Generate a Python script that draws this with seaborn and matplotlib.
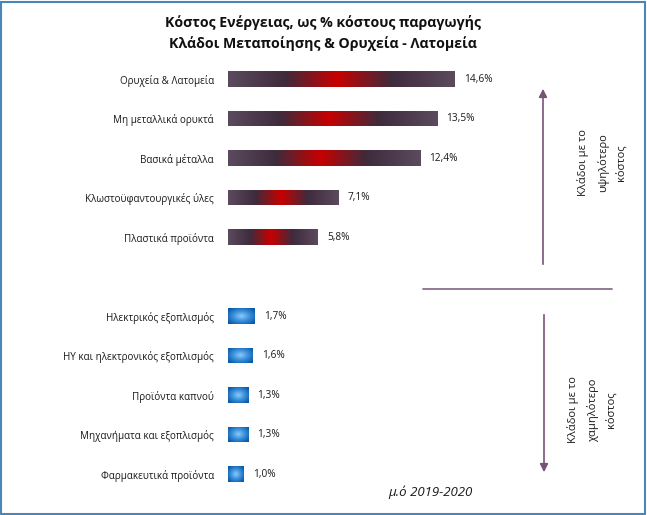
import numpy as np
import pandas as pd
import matplotlib.pyplot as plt
import matplotlib.patches as mpatches
from matplotlib.colors import LinearSegmentedColormap
import seaborn as sns

# --- Data ---
high_sectors = ['Ορυχεία & Λατομεία', 'Μη μεταλλικά ορυκτά', 'Βασικά μέταλλα',
                'Κλωστοϋφαντουργικές ύλες', 'Πλαστικά προϊόντα']
high_values = [14.6, 13.5, 12.4, 7.1, 5.8]
low_sectors = ['Ηλεκτρικός εξοπλισμός', 'ΗΥ και ηλεκτρονικός εξοπλισμός',
               'Προϊόντα καπνού', 'Μηχανήματα και εξοπλισμός', 'Φαρμακευτικά προϊόντα']
low_values = [1.7, 1.6, 1.3, 1.3, 1.0]
value_labels = ['14,6%', '13,5%', '12,4%', '7,1%', '5,8%',
                '1,7%', '1,6%', '1,3%', '1,3%', '1,0%']

TITLE = 'Κόστος Ενέργειας, ως % κόστους παραγωγής\nΚλάδοι Μεταποίησης & Ορυχεία - Λατομεία'
NOTE = 'μ.ό 2019-2020'
UP_TEXT = 'Κλάδοι με το\nυψηλότερο\nκόστος'
DOWN_TEXT = 'Κλάδοι με το\nχαμηλότερο\nκόστος'

sns.set_style('white')
plt.rcParams['font.family'] = ['Open Sans', 'DejaVu Sans']

# build table, leaving an empty slot between the two groups
df = pd.DataFrame({
    'sector': high_sectors + [' '] + low_sectors,
    'value': high_values + [0.0] + low_values,
    'group': ['high'] * 5 + ['gap'] + ['low'] * 5,
})

W, H = 647, 515
fig = plt.figure(figsize=(W / 100, H / 100), dpi=100)
# axes: x from 228px to 540px, y from 60px to 495px
ax = fig.add_axes([228 / W, 1 - 495 / H, (540 - 228) / W, (495 - 60) / H])

sns.barplot(data=df, x='value', y='sector', hue='group', dodge=False,
            palette={'high': '#4a3548', 'gap': 'white', 'low': '#0a64b4'},
            width=0.38, legend=False, ax=ax, orient='h')

ax.set_xlim(0, 312 / 15.5)
ax.set_ylim(10 + 21 / 39.5, -19 / 39.5)
ax.set_xlabel('')
ax.set_ylabel('')
ax.set_xticks([])
ax.tick_params(axis='y', length=0, pad=10, labelsize=7.1, labelcolor='#1a1a1a')
sns.despine(ax=ax, left=True, bottom=True)

# gradient fills
red_cmap = LinearSegmentedColormap.from_list(
    'redmid', [(0, '#5c4a5e'), (0.25, '#3e2b3c'), (0.48, '#c80000'),
               (0.72, '#3e2b3c'), (1, '#5c4a5e')])
blue_cmap = LinearSegmentedColormap.from_list('bluerad', ['#8ccaf8', '#3a90dc', '#0a5aa6'])

patches = [p for p in ax.patches if p.get_width() > 0]
patches.sort(key=lambda p: p.get_y())
for p in patches:
    x0, y0 = p.get_x(), p.get_y()
    w, h = p.get_width(), p.get_height()
    if w > 3:
        grad = np.linspace(0, 1, 256).reshape(1, -1)
        cmap = red_cmap
    else:
        xx, yy = np.meshgrid(np.linspace(-1, 1, 64), np.linspace(-1, 1, 64))
        grad = np.clip(np.sqrt(xx ** 2 + yy ** 2) / 1.25, 0, 1)
        cmap = blue_cmap
    im = ax.imshow(grad, cmap=cmap, aspect='auto', vmin=0, vmax=1,
                   extent=[x0, x0 + w, y0 + h, y0], zorder=3, interpolation='bilinear')
    im.set_clip_path(p)

# value labels
for p, lab in zip(patches, value_labels):
    ax.text(p.get_x() + p.get_width() + 0.6, p.get_y() + p.get_height() / 2, lab,
            ha='left', va='center', fontsize=7.3, color='#1a1a1a')

# title
fig.text(323 / W, 1 - 33 / H, TITLE, ha='center', va='center', fontsize=10.2,
         fontweight='bold', linespacing=1.6, color='#111111')

# right-side arrows and divider
arrow_col = '#765478'
fig.add_artist(mpatches.FancyArrowPatch((543 / W, 1 - 267 / H), (543 / W, 1 - 86 / H),
                                        transform=fig.transFigure, arrowstyle='-|>',
                                        mutation_scale=12, color=arrow_col, lw=1.2))
fig.add_artist(mpatches.FancyArrowPatch((544 / W, 1 - 312 / H), (544 / W, 1 - 475 / H),
                                        transform=fig.transFigure, arrowstyle='-|>',
                                        mutation_scale=12, color=arrow_col, lw=1.2))
fig.add_artist(plt.Line2D([423 / W, 612 / W], [1 - 289 / H, 1 - 289 / H],
                          transform=fig.transFigure, color='#8a6e8c', lw=1.3))

fig.text(602 / W, 1 - 163 / H, UP_TEXT, rotation=90, ha='center', va='center',
         fontsize=8, linespacing=1.8, color='#1a1a1a')
fig.text(592 / W, 1 - 410 / H, DOWN_TEXT, rotation=90, ha='center', va='center',
         fontsize=8, linespacing=1.8, color='#1a1a1a')

fig.text(430 / W, 1 - 492 / H, NOTE, ha='center', va='center', fontsize=9.5,
         style='italic', color='#1a1a1a')

# frame around chart
fig.add_artist(mpatches.Rectangle((1 / W, 1 / H), (W - 3) / W, (H - 3) / H,
                                  transform=fig.transFigure, fill=False,
                                  edgecolor='#4a86b8', lw=1.5))

fig.savefig('out.png', dpi=100)
